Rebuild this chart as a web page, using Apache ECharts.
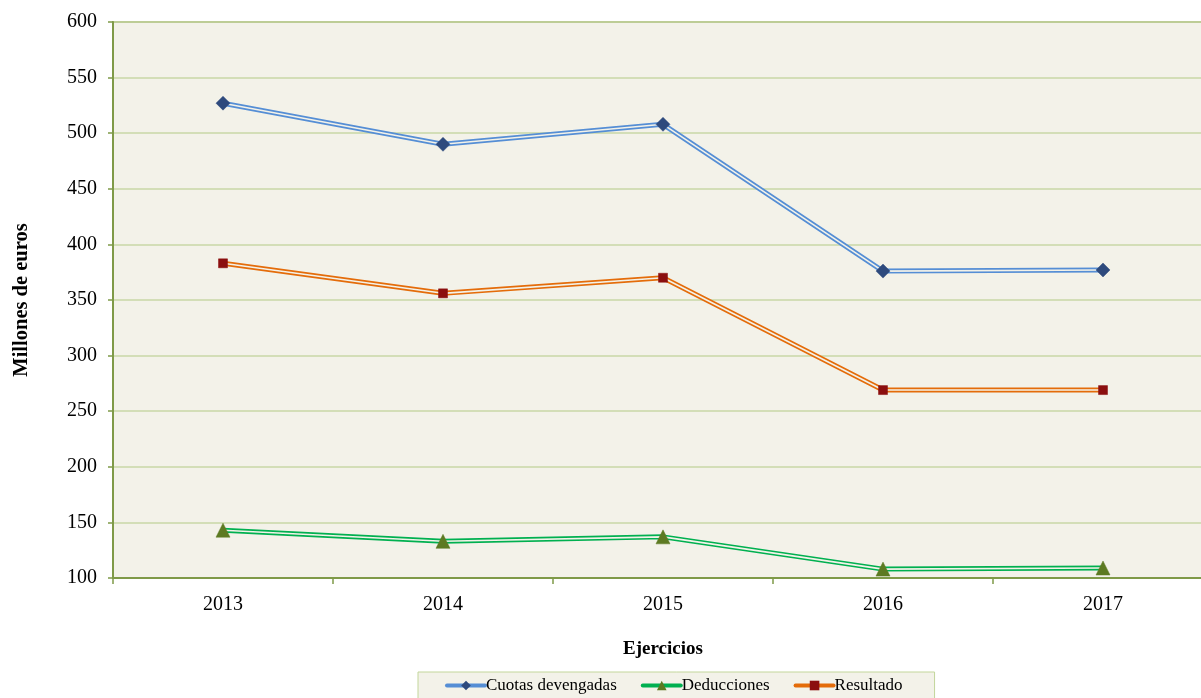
<!DOCTYPE html>
<html>
<head>
<meta charset="utf-8">
<script src="https://cdn.jsdelivr.net/npm/echarts@6/dist/echarts.min.js"></script>
<style>
  html, body { margin: 0; padding: 0; background: #fff; }
  #chart { width: 1201px; height: 698px; }
</style>
</head>
<body>
<div id="chart"></div>
<script>
const years = ['2013', '2014', '2015', '2016', '2017']
const cuotas = [527, 490, 508, 376, 377]
const deducciones = [143, 133, 137, 108, 109]
const resultado = [383, 356, 370, 269, 269]

const serif = '"Liberation Serif", "DejaVu Serif", serif'
const bg = '#f3f2e9'

const chart = echarts.init(document.getElementById('chart'))

// compound (double) line: wide coloured stroke + narrow background stroke on top
const outer = (name, data, color, symbol, size, mColor) => ({
  name,
  type: 'line',
  data,
  z: 2,
  symbol,
  symbolSize: size,
  showSymbol: false,
  lineStyle: { color, width: 5 },
  itemStyle: { color: mColor },
  emphasis: { disabled: true }
})
const inner = (name, data, symbol, size, mColor) => ({
  name: name + '_in',
  type: 'line',
  data,
  z: 3,
  symbol,
  symbolSize: size,
  lineStyle: { color: bg, width: 1.6 },
  itemStyle: { color: mColor, borderColor: mColor, borderWidth: 0.5 },
  emphasis: { disabled: true }
})

chart.setOption({
  backgroundColor: '#fff',
  animation: false,
  grid: {
    left: 113, top: 22, right: -12, bottom: 120,
    outerBoundsMode: 'none', containLabel: false,
    show: true, backgroundColor: bg, borderColor: '#9bb068', borderWidth: 2
  },
  legend: {
    data: ['Cuotas devengadas', 'Deducciones', 'Resultado'],
    left: 418,
    top: 672,
    padding: [5, 32, 6, 27],
    itemGap: 24,
    itemWidth: 38,
    itemHeight: 12,
    lineStyle: { width: 4, cap: 'round' },
    backgroundColor: bg,
    borderColor: '#c3d69b',
    borderWidth: 1,
    textStyle: { fontFamily: serif, fontSize: 17, color: '#000', padding: [0, 0, 0, -4] }
  },
  xAxis: {
    type: 'category',
    data: years,
    boundaryGap: true,
    name: 'Ejercicios',
    nameLocation: 'middle',
    nameGap: 62,
    nameTextStyle: { fontFamily: serif, fontSize: 19, fontWeight: 'bold', color: '#000' },
    axisLine: { lineStyle: { color: '#7f9a48', width: 2 } },
    axisTick: { show: true, length: 6, lineStyle: { color: '#7f9a48', width: 1.5 } },
    axisLabel: { fontFamily: serif, fontSize: 20, color: '#000', margin: 17 },
    splitLine: { show: false }
  },
  yAxis: {
    type: 'value',
    min: 100,
    max: 600,
    interval: 50,
    name: 'Millones de euros',
    nameLocation: 'middle',
    nameGap: 81,
    nameTextStyle: { fontFamily: serif, fontSize: 20.5, fontWeight: 'bold', color: '#000' },
    axisLine: { show: true, lineStyle: { color: '#7f9a48', width: 2 } },
    axisTick: { show: true, length: 5, lineStyle: { color: '#7f9a48', width: 1.5 } },
    axisLabel: { fontFamily: serif, fontSize: 20, color: '#000', margin: 16 },
    splitLine: { show: true, lineStyle: { color: '#c8d7a6', width: 1.5 } }
  },
  series: [
    outer('Cuotas devengadas', cuotas, '#558ed5', 'diamond', 14, '#2e4a7d'),
    outer('Deducciones', deducciones, '#00b050', 'triangle', 14, '#5d7a22'),
    outer('Resultado', resultado, '#e46c0a', 'rect', 9, '#8b0f0f'),
    inner('Cuotas devengadas', cuotas, 'diamond', 14, '#2e4a7d'),
    inner('Deducciones', deducciones, 'triangle', 14, '#5d7a22'),
    inner('Resultado', resultado, 'rect', 9, '#8b0f0f')
  ]
})
</script>
</body>
</html>
